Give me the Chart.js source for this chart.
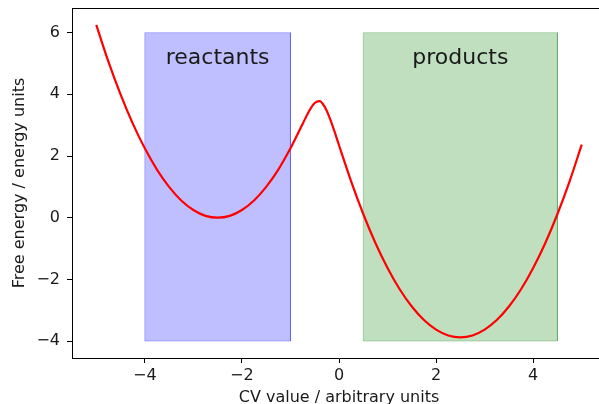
<!DOCTYPE html>
<html>
<head>
<meta charset="utf-8">
<script src="https://cdn.jsdelivr.net/npm/chart.js@4"></script>
<style>
    html, body { margin: 0; padding: 0; background: #fff; overflow: hidden; }
    #wrap { width: 612px; height: 404px; }
</style>
</head>
<body>
<div id="wrap"><canvas id="chart" width="612" height="404"></canvas></div>
<script>
// Free energy profile
const cvValues = [-5, -4.75, -4.5, -4.25, -4, -3.75, -3.5, -3.25, -3, -2.75, -2.5, -2.25, -2, -1.75,
    -1.5, -1.25, -1, -0.75, -0.6, -0.5, -0.4, -0.3, -0.2, -0.1, 0, 0.25, 0.5, 0.75, 1, 1.25,
    1.5, 1.75, 2, 2.25, 2.5, 2.75, 3, 3.25, 3.5, 3.75, 4, 4.25, 4.5, 4.75, 5];
const freeEnergy = [6.25, 5.06, 4.0, 3.06, 2.25, 1.56, 1.0, 0.56, 0.25, 0.06, 0.0, 0.06, 0.25, 0.56,
    1.0, 1.56, 2.25, 3.04, 3.50, 3.72, 3.78, 3.61, 3.27, 2.83, 2.35, 1.18, 0.12, -0.82, -1.63, -2.32,
    -2.88, -3.32, -3.63, -3.82, -3.88, -3.82, -3.63, -3.32, -2.88, -2.32, -1.63, -0.82, 0.12, 1.18, 2.37];

// Shaded regions
const regionNames = ['reactants', 'products'];
const regionStart = [-4, 0.5];
const regionEnd = [-1, 4.5];
const regionBottom = -4;
const regionTop = 6;
const regionLabelY = 5;
const regionColors = ['rgba(0, 0, 255, 0.25)', 'rgba(0, 128, 0, 0.25)'];

// Axis ticks
const xTicks = [-4, -2, 0, 2, 4];
const yTicks = [-4, -2, 0, 2, 4, 6];

const TEXT = '#1a1a1a';
const FONT = "'DejaVu Sans', sans-serif";

function fmt(v) {
    return v < 0 ? '\u2212' + Math.abs(v) : String(v);
}

/**
 * Region labels + the top/right spines
 */
const extrasPlugin = {
    id: 'extras',
    afterDatasetsDraw: function(chart) {
        const ctx = chart.ctx;
        const xs = chart.scales.x;
        const ys = chart.scales.y;
        ctx.save();
        ctx.font = '22px ' + FONT;
        ctx.fillStyle = TEXT;
        ctx.textAlign = 'center';
        ctx.textBaseline = 'alphabetic';
        regionNames.forEach((name, i) => {
            const cx = (regionStart[i] + regionEnd[i]) / 2;
            ctx.fillText(name, xs.getPixelForValue(cx), ys.getPixelForValue(regionLabelY));
        });
        const a = chart.chartArea;
        ctx.strokeStyle = '#000';
        ctx.lineWidth = 1;
        ctx.beginPath();
        ctx.moveTo(a.left, a.top + 0.5);
        ctx.lineTo(a.right, a.top + 0.5);
        ctx.moveTo(a.right - 0.5, a.top);
        ctx.lineTo(a.right - 0.5, a.bottom);
        ctx.stroke();
        ctx.restore();
    }
};

const datasets = [];
datasets.push({
    label: 'free energy',
    data: cvValues.map((x, i) => ({ x: x, y: freeEnergy[i] })),
    borderColor: '#ff0000',
    borderWidth: 2.2,
    pointRadius: 0,
    cubicInterpolationMode: 'monotone',
    fill: false,
    order: 0
});
regionNames.forEach((name, i) => {
    datasets.push({
        label: name,
        data: [
            { x: regionStart[i], y: regionBottom },
            { x: regionStart[i], y: regionTop },
            { x: regionEnd[i], y: regionTop },
            { x: regionEnd[i], y: regionBottom },
            { x: regionStart[i], y: regionBottom }
        ],
        borderColor: regionColors[i],
        backgroundColor: regionColors[i],
        borderWidth: 1,
        pointRadius: 0,
        tension: 0,
        fill: 'shape',
        order: 1
    });
});

new Chart(document.getElementById('chart').getContext('2d'), {
    type: 'line',
    data: { datasets: datasets },
    options: {
        responsive: false,
        animation: false,
        layout: { padding: { top: 8, right: 6, left: 0, bottom: 0 } },
        plugins: {
            legend: { display: false },
            tooltip: { enabled: false }
        },
        scales: {
            x: {
                type: 'linear',
                min: -5.5,
                max: 5.5,
                afterFit: function(scale) {
                    scale.height = 46;
                    scale.paddingLeft = 0;
                    scale.paddingRight = 0;
                },
                afterBuildTicks: function(scale) {
                    scale.ticks = xTicks.map(v => ({ value: v }));
                },
                ticks: {
                    color: TEXT,
                    font: { family: FONT, size: 16 },
                    padding: 3,
                    maxRotation: 0,
                    callback: v => fmt(v)
                },
                grid: {
                    drawOnChartArea: false,
                    drawTicks: true,
                    tickLength: 5,
                    tickColor: '#000'
                },
                border: { color: '#000', width: 1 },
                title: {
                    display: true,
                    text: 'CV value / arbitrary units',
                    color: TEXT,
                    font: { family: FONT, size: 16 },
                    padding: { top: 0, bottom: -3 }
                }
            },
            y: {
                type: 'linear',
                min: -4.55,
                max: 6.8,
                afterFit: function(scale) {
                    scale.width = 72;
                    scale.paddingTop = 0;
                    scale.paddingBottom = 0;
                },
                afterBuildTicks: function(scale) {
                    scale.ticks = yTicks.map(v => ({ value: v }));
                },
                ticks: {
                    color: TEXT,
                    font: { family: FONT, size: 16 },
                    padding: 7,
                    callback: v => fmt(v)
                },
                grid: {
                    drawOnChartArea: false,
                    drawTicks: true,
                    tickLength: 5,
                    tickColor: '#000'
                },
                border: { color: '#000', width: 1 },
                title: {
                    display: true,
                    text: 'Free energy / energy units',
                    color: TEXT,
                    font: { family: FONT, size: 16 },
                    padding: { top: 10, bottom: 0 }
                }
            }
        }
    },
    plugins: [extrasPlugin]
});
</script>
</body>
</html>
